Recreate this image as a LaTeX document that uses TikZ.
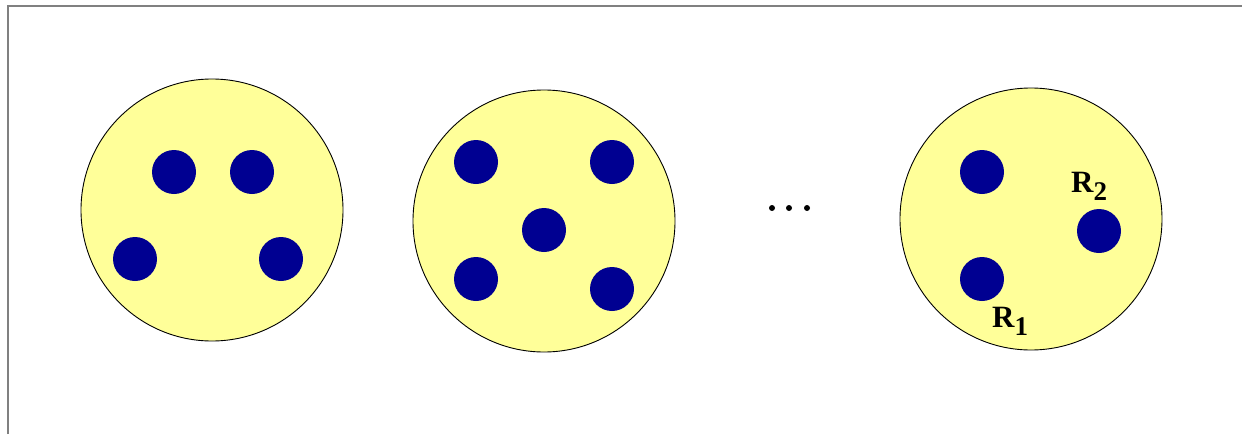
\documentclass[tikz,border=0pt]{standalone}
\usepackage{fontspec}
\setmainfont{Liberation Serif}
\definecolor{cellfill}{RGB}{255,255,153}
\definecolor{dotfill}{RGB}{0,0,145}
\definecolor{framegray}{RGB}{128,128,128}
\begin{document}
\begin{tikzpicture}[x=1pt,y=-1pt,
  cell/.style={circle,draw=black,line width=0.9pt,fill=cellfill,minimum size=262pt,inner sep=0pt},
  particle/.style={circle,fill=dotfill,minimum size=44pt,inner sep=0pt},
  ell/.style={circle,fill=black,minimum size=6pt,inner sep=0pt},
  lab/.style={font=\fontsize{31}{32}\selectfont\bfseries,inner sep=0pt,anchor=base west}]
\useasboundingbox (0,0) rectangle (1242,434);
\draw[framegray,line width=2pt] (8,434) -- (8,6) -- (1242,6);
\node[cell] (c1) at (212,210) {};
\node[cell] (c2) at (544,221) {};
\node[cell] (c3) at (1031,219) {};
% cell 1
\node[particle] (a1) at (174,172) {};
\node[particle] (a2) at (252,172) {};
\node[particle] (a3) at (135,259) {};
\node[particle] (a4) at (281,259) {};
% cell 2
\node[particle] (b1) at (476,162) {};
\node[particle] (b2) at (612,162) {};
\node[particle] (b3) at (544,230) {};
\node[particle] (b4) at (476,279) {};
\node[particle] (b5) at (612,289) {};
% cell 3
\node[particle] (d1) at (982,172) {};
\node[particle] (d2) at (1099,231) {};
\node[particle] (d3) at (982,279) {};
\node[lab] (r2) at (1071,192) {R\raisebox{-0.26em}{\fontsize{27}{28}\selectfont 2}};
\node[lab] (r1) at (992,327) {R\raisebox{-0.26em}{\fontsize{27}{28}\selectfont 1}};
% ellipsis
\node[ell] (e1) at (772,208) {};
\node[ell] (e2) at (789,208) {};
\node[ell] (e3) at (807,208) {};
\end{tikzpicture}
\end{document}
